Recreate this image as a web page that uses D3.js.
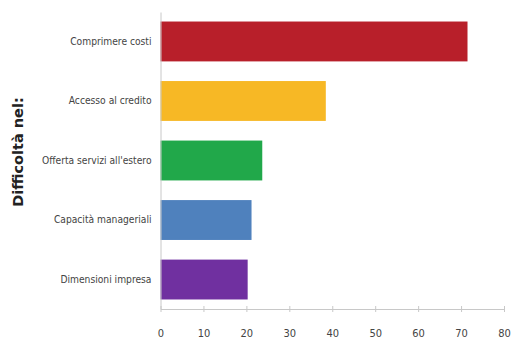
<!DOCTYPE html>
<html><head><meta charset="utf-8">
<script src="https://cdn.jsdelivr.net/npm/d3@7"></script>
<style>body{margin:0;background:#fff}svg{display:block}</style>
</head><body>
<script>
const categories = ["Comprimere costi","Accesso al credito","Offerta servizi all'estero","Capacità manageriali","Dimensioni impresa"];
const values = [71.5, 38.5, 23.7, 21.2, 20.3];
const colors = ["#B81F2A","#F7B825","#21A84A","#4F81BD","#7030A0"];
const xTicks = [0,10,20,30,40,50,60,70,80];
const yTitle = "Difficoltà nel:";

const W=512,H=339;
const svg=d3.select("body").append("svg").attr("width",W).attr("height",H);
const x=d3.scaleLinear().domain([0,80]).range([160.5,504]);
const y=d3.scaleBand().domain(categories).range([12,309]).paddingInner(0.33).paddingOuter(0.16);
const labFont="'DejaVu Sans Condensed','Liberation Sans Narrow','Liberation Sans',sans-serif";

svg.append("g").selectAll("rect").data(categories).join("rect")
  .attr("x",x(0)).attr("y",d=>y(d)).attr("height",y.bandwidth())
  .attr("width",(d,i)=>x(values[i])-x(0)).attr("fill",(d,i)=>colors[i]);

const xa=svg.append("g").attr("transform","translate(0,309)")
  .call(d3.axisBottom(x).tickValues(xTicks).tickSize(4).tickSizeOuter(0).tickPadding(16));
xa.select(".domain").attr("stroke","#c8c8c8");
xa.selectAll(".tick line").attr("stroke","#c8c8c8").attr("y1",-3).attr("y2",3);
xa.selectAll("text").attr("font-family",labFont).attr("font-size",11).attr("fill","#444");

const ya=svg.append("g").attr("transform","translate(160.5,0)")
  .call(d3.axisLeft(y).tickSize(0).tickPadding(9));
ya.select(".domain").attr("stroke","#c8c8c8");
ya.selectAll("text").attr("font-family",labFont).attr("font-size",10.2).attr("fill","#444");

svg.append("text").attr("transform","translate(23,152) rotate(-90)")
  .attr("text-anchor","middle").attr("font-family","'DejaVu Sans',sans-serif")
  .attr("font-weight","bold").attr("font-size",14.5).attr("fill","#222").text(yTitle);
</script>
</body></html>
